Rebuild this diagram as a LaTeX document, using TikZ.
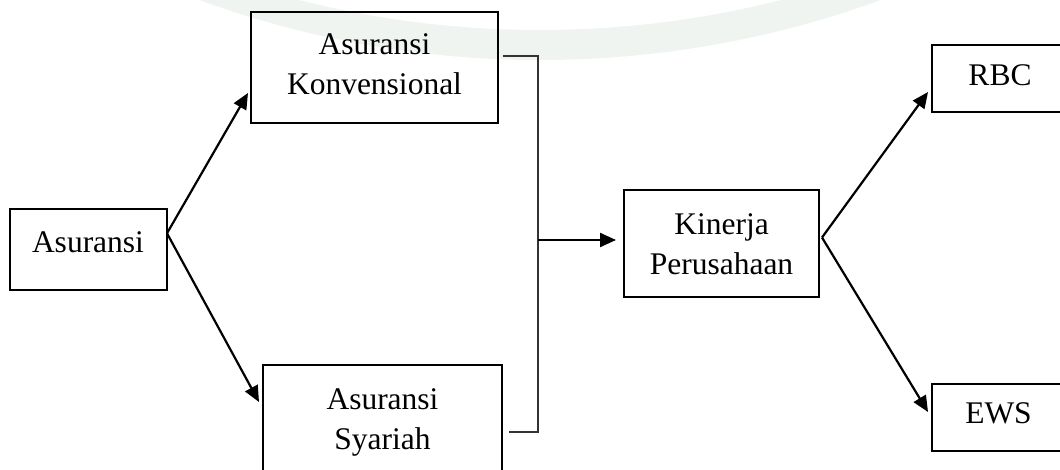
\documentclass[tikz,border=0pt]{standalone}
\usepackage{fontspec}
\setmainfont{Liberation Serif}
\usetikzlibrary{arrows.meta,calc}
\definecolor{wm}{RGB}{239,244,240}
\begin{document}
\begin{tikzpicture}[x=1pt,y=-1pt,
  box/.style={draw, line width=2.6pt, inner sep=0pt, outer sep=0pt},
  lbl/.style={font=\fontsize{31.5}{40}\selectfont, align=center, inner sep=0pt},
  arr/.style={line width=2.2pt, -{Triangle[length=16pt,width=14pt]}},
  brk/.style={line width=1.3pt, draw=black!80}]
\useasboundingbox (0,0) rectangle (1060,470);
% faint watermark ring
\fill[wm, even odd rule] (540,-933) circle (993) (540,-945) circle (975);
% boxes
\node[box, minimum width=157pt, minimum height=81pt] (asr) at (88.5,249.5) {};
\node[box, minimum width=247pt, minimum height=111pt] (konv) at (374.5,67.5) {};
\node[box, minimum width=239pt, minimum height=125pt] (syr) at (382.5,427.5) {};
\node[box, minimum width=195pt, minimum height=107pt] (kin) at (721.5,243.5) {};
\node[box, minimum width=148pt, minimum height=67pt] (rbc) at (1006,78.5) {};
\node[box, minimum width=148pt, minimum height=67pt] (ews) at (1006,417.5) {};
% texts
\node[lbl] (tasr) at (88,242) {Asuransi};
\node[lbl] (tkonv) at (374.5,64) {Asuransi\\Konvensional};
\node[lbl] (tsyr) at (382.5,422) {Asuransi\\Syariah};
\node[lbl] (tkin) at (721.5,244) {Kinerja\\Perusahaan};
\node[lbl] (trbc) at (1000,75) {RBC};
\node[lbl] (tews) at (998.5,413) {EWS};
% connectors
\coordinate (aout) at ($(asr.north east)!0.3!(asr.south east)$);
\draw[arr] (aout) -- ($(konv.north west)+(-3,81)$);
\draw[arr] (aout) -- ($(syr.north west)+(-4,37)$);
\coordinate (b1) at ($(konv.east)+(5,-11.5)$);
\coordinate (b4) at ($(syr.north east)+(7,67)$);
\draw[brk] (b1) -- ++(35,0) coordinate (b2) |- (b4);
\coordinate (bm) at ($(b2)+(0,184)$);
\draw[arr] (bm) -- ($(kin.west)+(-8,-3.5)$);
\coordinate (kout) at ($(kin.east)+(3,-6)$);
\draw[arr] (kout) -- ($(rbc.north west)+(-4,47)$);
\draw[arr] (kout) -- ($(ews.north west)+(-4,28)$);
\end{tikzpicture}
\end{document}
